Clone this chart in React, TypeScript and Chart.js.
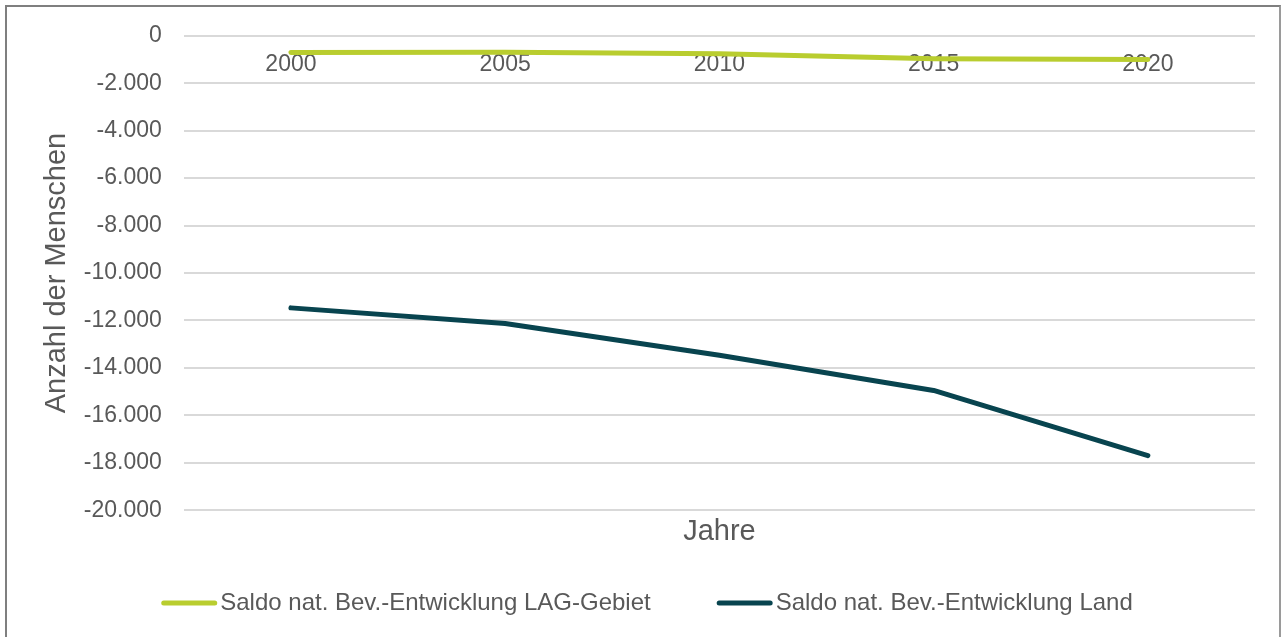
import React, { useEffect, useRef } from "react";
import { Chart, registerables } from "chart.js";

Chart.register(...registerables);

const categories = ["2000", "2005", "2010", "2015", "2020"];
const lagGebiet = [-700, -690, -760, -970, -1000];
const land = [-11470, -12130, -13470, -14950, -17700];
const seriesNames = [
  "Saldo nat. Bev.-Entwicklung LAG-Gebiet",
  "Saldo nat. Bev.-Entwicklung Land",
];
const seriesColors = ["#b9cd2f", "#08444f"];
const yMin = -20000;
const yMax = 0;
const yStep = 2000;
const xTitle = "Jahre";
const yTitle = "Anzahl der Menschen";

const FONT = "'Liberation Sans', Arial, sans-serif";
const TEXT = "#595959";

function fmt(v: number): string {
  const neg = v < 0;
  const s = String(Math.round(Math.abs(v)));
  const withDots = s.replace(/\B(?=(\d{3})+(?!\d))/g, ".");
  return (neg ? "-" : "") + withDots;
}

const bottomLegend = {
  id: "bottomLegend",
  afterDraw(chart: any) {
    const ctx = chart.ctx as CanvasRenderingContext2D;
    const ds = chart.data.datasets;
    ctx.save();
    ctx.font = `24px ${FONT}`;
    const lineLen = 51;
    const cap = 2.5;
    const gapText = 3;
    const gapItems = 66;
    const widths = ds.map((d: any) => ctx.measureText(d.label).width);
    let total = 0;
    ds.forEach((_: any, i: number) => {
      total += lineLen + cap * 2 + gapText + widths[i];
      if (i > 0) total += gapItems;
    });
    const cx = 647;
    const cy = 603;
    let x = cx - total / 2;
    ds.forEach((d: any, i: number) => {
      ctx.beginPath();
      ctx.strokeStyle = d.borderColor;
      ctx.lineWidth = 5;
      ctx.lineCap = "round";
      ctx.moveTo(x + cap, cy);
      ctx.lineTo(x + cap + lineLen, cy);
      ctx.stroke();
      x += lineLen + cap * 2 + gapText;
      ctx.fillStyle = TEXT;
      ctx.textBaseline = "middle";
      ctx.textAlign = "left";
      ctx.fillText(d.label, x, cy);
      x += widths[i] + gapItems;
    });
    ctx.restore();
  },
};

export default function App() {
  const ref = useRef<HTMLCanvasElement | null>(null);

  useEffect(() => {
    if (!ref.current) return;
    const chart = new Chart(ref.current, {
      type: "line",
      data: {
        labels: categories,
        datasets: [
          {
            label: seriesNames[0],
            data: lagGebiet,
            borderColor: seriesColors[0],
            backgroundColor: seriesColors[0],
            borderWidth: 5,
            borderCapStyle: "round",
            borderJoinStyle: "round",
            pointRadius: 0,
            pointHoverRadius: 0,
            tension: 0,
            xAxisID: "x",
            yAxisID: "y",
          },
          {
            label: seriesNames[1],
            data: land,
            borderColor: seriesColors[1],
            backgroundColor: seriesColors[1],
            borderWidth: 5,
            borderCapStyle: "round",
            borderJoinStyle: "round",
            pointRadius: 0,
            pointHoverRadius: 0,
            tension: 0,
            xAxisID: "x",
            yAxisID: "y",
          },
        ],
      },
      options: {
        responsive: false,
        animation: false,
        devicePixelRatio: 1,
        layout: { padding: { top: 35, right: 29, bottom: 88, left: 40 } },
        plugins: {
          legend: { display: false },
          tooltip: { enabled: false },
        },
        scales: {
          x: {
            type: "category",
            position: { y: 0 } as any,
            offset: true,
            grid: { display: false, drawTicks: false },
            border: { display: false },
            ticks: {
              color: TEXT,
              font: { family: FONT, size: 23 },
              padding: 15,
              maxRotation: 0,
              autoSkip: false,
            },
          },
          x2: {
            type: "category",
            position: "bottom",
            offset: true,
            grid: { display: false, drawTicks: false },
            border: { display: false },
            ticks: { display: false },
            title: {
              display: true,
              text: xTitle,
              color: TEXT,
              font: { family: FONT, size: 29 },
              padding: { top: 4, bottom: 0 },
            },
          },
          y: {
            type: "linear",
            position: "left",
            min: yMin,
            max: yMax,
            grid: { color: "#d9d9d9", lineWidth: 2, drawTicks: false },
            border: { display: false },
            ticks: {
              stepSize: yStep,
              color: TEXT,
              font: { family: FONT, size: 23 },
              padding: 22,
              callback: (v: any) => fmt(Number(v)),
            },
            title: {
              display: true,
              text: yTitle,
              color: TEXT,
              font: { family: FONT, size: 29 },
              padding: { top: 0, bottom: -13 },
            },
          },
        },
      },
      plugins: [bottomLegend],
    });
    return () => chart.destroy();
  }, []);

  return (
    <div
      style={{
        position: "fixed",
        left: 0,
        top: 0,
        width: 1284,
        height: 637,
        background: "#ffffff",
        overflow: "hidden",
      }}
    >
      <div
        style={{
          position: "absolute",
          left: 5,
          top: 5,
          width: 1276,
          height: 700,
          boxSizing: "border-box",
          borderLeft: "2px solid #7f7f7f",
          borderTop: "2px solid #7f7f7f",
          borderRight: "2px solid #9a9a9a",
        }}
      />
      <canvas
        ref={ref}
        width={1284}
        height={637}
        style={{ position: "absolute", left: 0, top: 0, width: 1284, height: 637 }}
      />
    </div>
  );
}
